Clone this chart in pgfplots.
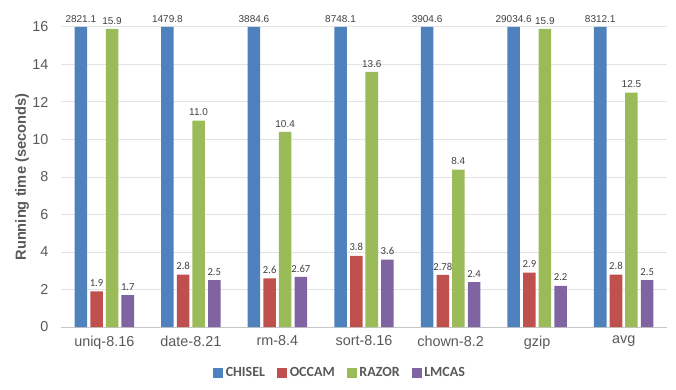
\documentclass[border=0pt]{standalone}
\usepackage{fontspec}
\setmainfont{Liberation Sans}
\newfontfamily\carlito{Carlito}
\usepackage{pgfplots}
\usepackage{pgfplotstable}
\pgfplotsset{compat=1.18}
\usetikzlibrary{calc}

\definecolor{cblue}{HTML}{4F81BD}
\definecolor{cred}{HTML}{C0504D}
\definecolor{cgreen}{HTML}{9BBB59}
\definecolor{cpurple}{HTML}{8064A2}
\definecolor{txt}{HTML}{595959}
\definecolor{lbl}{HTML}{404040}

% running time in seconds; chisel goes far beyond the axis top
\pgfplotstableread{
x chisel occam razor lmcas
0 2821.1 1.9 15.9 1.7
1 1479.8 2.8 11.0 2.5
2 3884.6 2.6 10.4 2.67
3 8748.1 3.8 13.6 3.6
4 3904.6 2.78 8.4 2.4
5 29034.6 2.9 15.9 2.2
6 8312.1 2.8 12.5 2.5
}\runtime

\begin{document}
\begin{tikzpicture}
\begin{axis}[
  scale only axis,
  width=454.5pt, height=225pt,
  xmin=-0.5, xmax=6.5, ymin=0, ymax=16,
  enlargelimits=false,
  clip=false,
  ybar, bar width=9.4pt,
  xtick={0,...,6},
  xticklabels={uniq-8.16,date-8.21,rm-8.4,sort-8.16,chown-8.2,gzip,avg},
  ytick={0,2,...,16},
  major tick length=0pt,
  axis x line*=bottom, axis y line*=left,
  x axis line style={draw=gray!45, line width=0.75pt},
  y axis line style={draw=none},
  ymajorgrids,
  major grid style={draw=gray!22, line width=0.75pt},
  /pgf/number format/assume math mode=true,
  tick label style={font=\fontsize{10.8}{12}\selectfont, text=txt},
  yticklabel style={xshift=-6pt},
  xticklabel style={yshift=-3pt},
  ylabel={Running time (seconds)},
  ylabel style={font=\bfseries\fontsize{11}{13}\selectfont, text=txt,
    at={(axis description cs:-0.064,0.5)}, anchor=center},
  point meta=explicit symbolic,
  legend columns=4,
  legend style={at={(0.461,-0.153)}, anchor=center, draw=none,
    font=\carlito\bfseries\fontsize{10.5}{12}\selectfont, text=txt,
    /tikz/every even column/.append style={column sep=7pt}},
  legend image code/.code={\fill[#1,draw=none] (0pt,-3.75pt) rectangle (7.5pt,3.75pt);},
  nodes near coords,
  every node near coord/.append style={text=lbl},
]
\addplot[fill=cblue, draw=none, bar shift=-17.6pt,
  every node near coord/.append style={font=\fontsize{7.5}{9}\selectfont}]
  table[x=x, y expr={min(\thisrow{chisel},16)}, meta=chisel] {\runtime};
\addplot[fill=cred, draw=none, bar shift=-5.8pt,
  every node near coord/.append style={font=\carlito\fontsize{8}{9}\selectfont}]
  table[x=x, y=occam, meta=occam] {\runtime};
\addplot[fill=cgreen, draw=none, bar shift=5.8pt,
  every node near coord/.append style={font=\fontsize{7.5}{9}\selectfont}]
  table[x=x, y=razor, meta=razor] {\runtime};
\addplot[fill=cpurple, draw=none, bar shift=17.6pt,
  every node near coord/.append style={font=\carlito\fontsize{8}{9}\selectfont}]
  table[x=x, y=lmcas, meta=lmcas] {\runtime};
\legend{CHISEL,OCCAM,RAZOR,LMCAS}
\end{axis}
\path[use as bounding box] ($(current axis.south west)+(-45.75pt,-46.5pt)$)
  rectangle ($(current axis.north east)+(6.75pt,20.25pt)$);
\end{tikzpicture}
\end{document}
